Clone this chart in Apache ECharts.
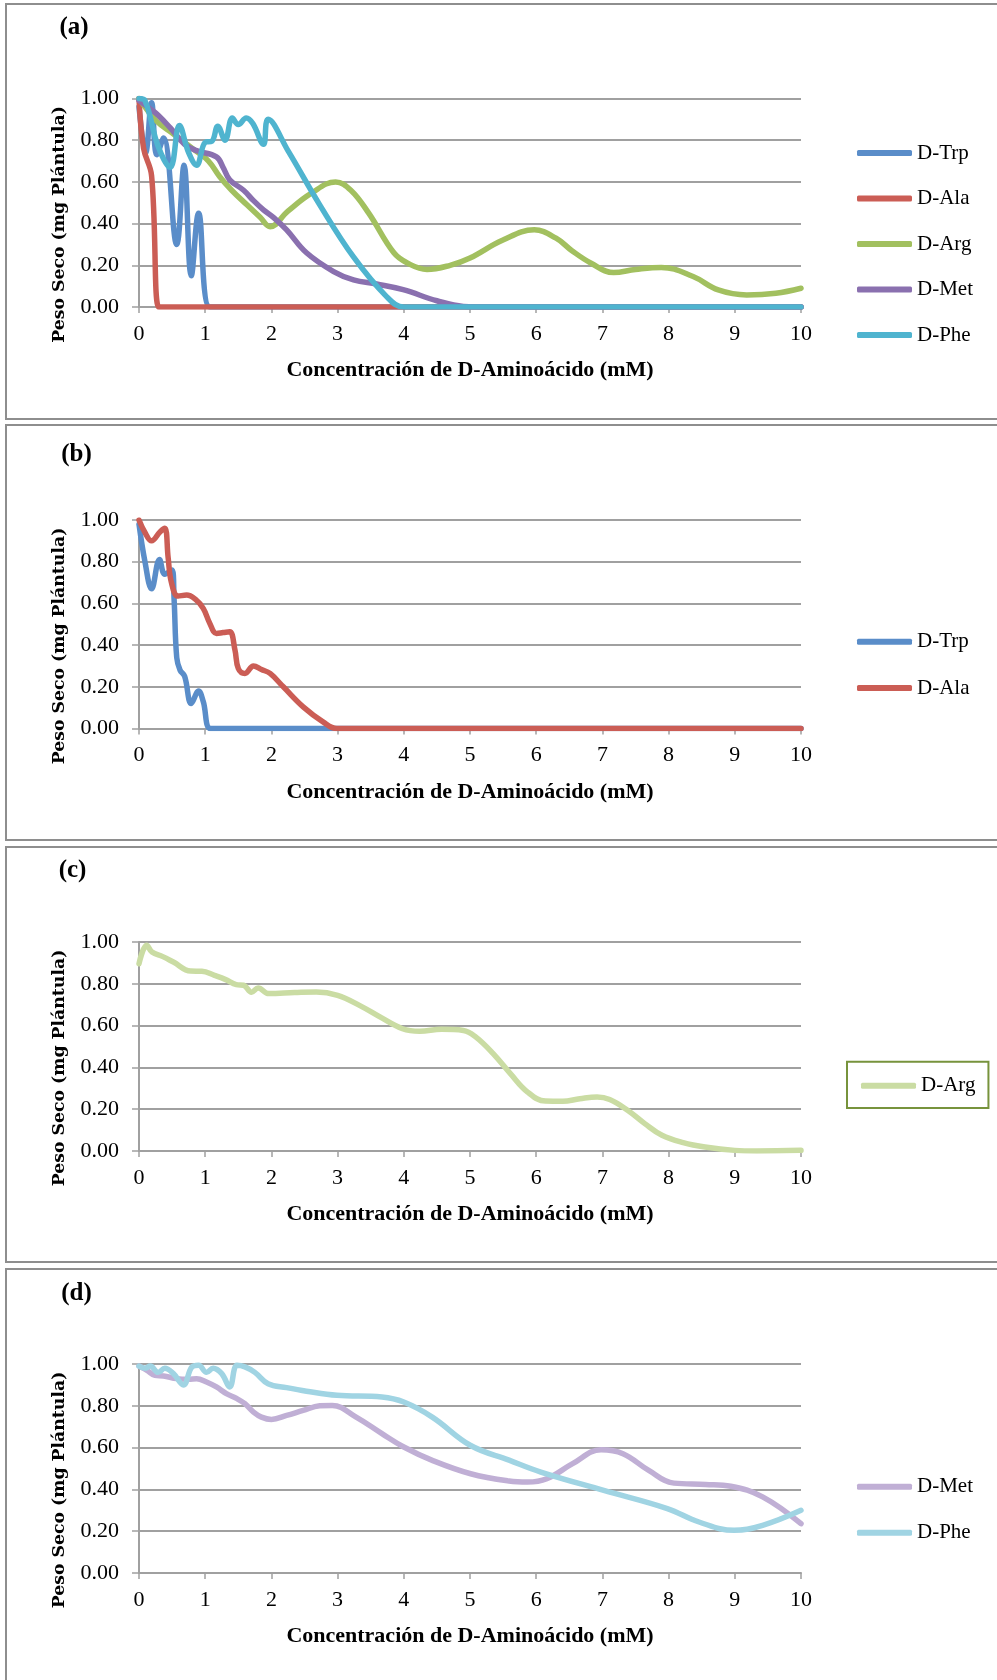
<!DOCTYPE html>
<html>
<head>
<meta charset="utf-8">
<script src="https://cdn.jsdelivr.net/npm/echarts@6/dist/echarts.min.js"></script>
<style>
  html, body { margin: 0; padding: 0; background: #fff; }
  #chart { width: 997px; height: 1680px; }
</style>
</head>
<body>
<div id="chart"></div>
<script>
// valores: [concentración mM, peso seco]
const aTrp = [[0,0.96],[0.1,0.74],[0.19,0.98],[0.27,0.73],[0.37,0.81],[0.57,0.3],[0.68,0.68],[0.79,0.15],[0.9,0.45],[1.07,0],[1.3,0],[2,0],[4,0],[6,0],[8,0],[10,0]];
const aAla = [[0,1],[0.07,0.76],[0.19,0.63],[0.3,0],[0.4,0],[1,0],[2,0],[4,0],[6,0],[8,0],[10,0]];
const aArg = [[0,1],[0.27,0.89],[0.52,0.83],[0.85,0.75],[1.05,0.7],[1.22,0.625],[1.4,0.56],[1.63,0.49],[1.83,0.43],[1.98,0.385],[2.25,0.46],[2.6,0.545],[2.97,0.6],[3.2,0.56],[3.47,0.45],[3.85,0.26],[4.06,0.21],[4.35,0.18],[4.7,0.2],[5,0.235],[5.49,0.32],[5.97,0.37],[6.3,0.33],[6.54,0.27],[6.83,0.21],[7.17,0.165],[7.5,0.18],[7.89,0.19],[8.37,0.146],[8.75,0.082],[9.18,0.058],[9.62,0.066],[10,0.09]];
const aMet = [[0,0.99],[0.17,0.95],[0.29,0.92],[0.47,0.86],[0.69,0.78],[0.87,0.75],[1.17,0.72],[1.27,0.67],[1.37,0.61],[1.58,0.56],[1.73,0.51],[1.88,0.466],[2.03,0.43],[2.23,0.37],[2.53,0.26],[2.94,0.17],[3.24,0.13],[3.59,0.11],[3.99,0.083],[4.5,0.03],[4.9,0.003],[5.3,0],[6,0],[8,0],[10,0]];
const aPhe = [[0,1],[0.09,0.99],[0.29,0.77],[0.47,0.67],[0.61,0.87],[0.75,0.74],[0.87,0.68],[1,0.79],[1.1,0.795],[1.19,0.867],[1.3,0.8],[1.41,0.907],[1.5,0.875],[1.62,0.907],[1.72,0.88],[1.88,0.78],[1.95,0.9],[2.25,0.75],[2.73,0.49],[3.24,0.24],[3.74,0.05],[4,0],[4.3,0],[5,0],[6,0],[8,0],[10,0]];

const bTrp = [[0,0.98],[0.09,0.8],[0.19,0.67],[0.31,0.81],[0.39,0.74],[0.5,0.76],[0.53,0.62],[0.57,0.34],[0.62,0.28],[0.69,0.25],[0.79,0.12],[0.9,0.18],[0.97,0.13],[1.08,0],[1.3,0],[2,0],[4,0],[6,0],[8,0],[10,0]];
const bAla = [[0,1],[0.09,0.94],[0.19,0.9],[0.32,0.944],[0.39,0.96],[0.44,0.82],[0.49,0.7],[0.59,0.635],[0.72,0.64],[0.85,0.62],[0.97,0.576],[1.07,0.504],[1.17,0.456],[1.27,0.46],[1.37,0.464],[1.45,0.376],[1.5,0.288],[1.6,0.264],[1.73,0.3],[1.85,0.283],[1.98,0.264],[2.18,0.2],[2.48,0.104],[2.78,0.032],[2.99,0],[3.5,0],[4,0],[6,0],[8,0],[10,0]];

const cArg = [[0,0.896],[0.117,0.984],[0.196,0.952],[0.36,0.93],[0.52,0.904],[0.78,0.861],[0.95,0.86],[1.14,0.84],[1.31,0.82],[1.47,0.796],[1.58,0.793],[1.7,0.76],[1.8,0.78],[1.96,0.753],[2.35,0.758],[2.68,0.761],[3,0.745],[3.33,0.697],[3.66,0.638],[3.98,0.585],[4.24,0.573],[4.57,0.582],[4.9,0.577],[5.09,0.545],[5.35,0.466],[5.61,0.37],[5.87,0.282],[6.14,0.239],[6.4,0.238],[6.66,0.25],[6.92,0.258],[7.11,0.246],[7.38,0.195],[7.64,0.131],[7.9,0.075],[8.22,0.04],[8.55,0.019],[9,0.003],[9.33,0],[10,0.003]];

const dMet = [[0,0.99],[0.12,0.97],[0.24,0.946],[0.37,0.943],[0.57,0.93],[0.75,0.927],[0.87,0.93],[1.02,0.914],[1.17,0.89],[1.32,0.858],[1.48,0.834],[1.6,0.81],[1.73,0.77],[1.85,0.746],[2,0.735],[2.23,0.754],[2.48,0.778],[2.73,0.8],[2.92,0.802],[3.28,0.746],[3.67,0.667],[4,0.603],[4.43,0.539],[5.01,0.475],[5.59,0.44],[5.87,0.435],[6.16,0.451],[6.55,0.523],[6.98,0.59],[7.31,0.571],[7.7,0.491],[8.08,0.43],[8.56,0.424],[8.94,0.415],[9.42,0.364],[10,0.236]];
const dPhe = [[0,0.99],[0.09,0.98],[0.17,0.99],[0.29,0.96],[0.39,0.98],[0.52,0.954],[0.67,0.9],[0.8,0.986],[0.9,0.994],[1.02,0.96],[1.12,0.98],[1.25,0.954],[1.37,0.89],[1.48,0.994],[1.6,0.986],[1.75,0.96],[1.95,0.906],[2.23,0.887],[2.53,0.87],[2.99,0.85],[3.67,0.842],[4,0.818],[4.43,0.746],[5.01,0.61],[5.59,0.54],[6.07,0.483],[7.02,0.395],[7.98,0.308],[8.46,0.244],[8.99,0.204],[9.42,0.228],[10,0.3]];

const panelLabels = ['(a)', '(b)', '(c)', '(d)'];
const xTitle = 'Concentración de D-Aminoácido (mM)';
const yTitle = 'Peso Seco (mg Plántula)';

const colors = {
  trp: '#5a8dc9', ala: '#cb5d55', arg: '#a2c05f', met: '#8a70af', phe: '#4fb4cf',
  argLight: '#cadca3', metLight: '#c0afd5', pheLight: '#a0d4e3'
};

const serif = "'Liberation Serif', serif";

const panels = [
  { top: 4, gridTop: 98.5, gridH: 208.5, lab: [74, 27.5], legTop: 142.5, legGap: 24.5,
    series: [['D-Trp', aTrp, colors.trp], ['D-Ala', aAla, colors.ala], ['D-Arg', aArg, colors.arg], ['D-Met', aMet, colors.met], ['D-Phe', aPhe, colors.phe]] },
  { top: 425, gridTop: 520, gridH: 208.5, lab: [76.5, 455], legTop: 631.2, legGap: 25.3,
    series: [['D-Trp', bTrp, colors.trp], ['D-Ala', bAla, colors.ala]] },
  { top: 847, gridTop: 942, gridH: 209, lab: [72.5, 871], legTop: 1061.7, legGap: 10, box: true,
    series: [['D-Arg', cArg, colors.argLight]] },
  { top: 1269, gridTop: 1364, gridH: 209, lab: [76.5, 1294], legTop: 1476.2, legGap: 25,
    series: [['D-Met', dMet, colors.metLight], ['D-Phe', dPhe, colors.pheLight]] }
];

const chart = echarts.init(document.getElementById('chart'));

const series = [];
panels.forEach((p, i) => {
  p.series.forEach(([name, data, color]) => {
    series.push({
      name, type: 'line', xAxisIndex: i, yAxisIndex: i, data,
      smooth: 0.4, symbol: 'none', showSymbol: false,
      lineStyle: { color, width: 5.5, cap: 'round', join: 'round' },
      itemStyle: { color }
    });
  });
});

const graphics = [];
panels.forEach((p, i) => {
  graphics.push({
    type: 'rect', silent: true,
    shape: { x: 6, y: p.top, width: 1000, height: 415 },
    style: { fill: 'none', stroke: '#8e8e8e', lineWidth: 2 }
  });
  graphics.push({
    type: 'text', silent: true, x: p.lab[0], y: p.lab[1],
    style: { text: panelLabels[i], font: "bold 25px 'Liberation Serif', serif", fill: '#000',
      align: 'center', verticalAlign: 'middle', textAlign: 'center', textVerticalAlign: 'middle' }
  });
  graphics.push({
    type: 'text', silent: true, x: 60, y: p.gridTop + 126, rotation: Math.PI / 2,
    style: { text: yTitle, font: "bold 17.3px 'DejaVu Serif', serif", fill: '#000',
      align: 'center', verticalAlign: 'middle', textAlign: 'center', textVerticalAlign: 'middle' }
  });
  graphics.push({
    type: 'text', silent: true, x: 470, y: p.gridTop + p.gridH + 63.5,
    style: { text: xTitle, font: "bold 22px 'Liberation Serif', serif", fill: '#000',
      align: 'center', verticalAlign: 'middle', textAlign: 'center', textVerticalAlign: 'middle' }
  });
});

const option = {
  animation: false,
  backgroundColor: '#fff',
  grid: panels.map(p => ({ left: 139, width: 662, top: p.gridTop, height: p.gridH })),
  xAxis: panels.map((p, i) => ({
    type: 'value', gridIndex: i, min: 0, max: 10, interval: 1,
    axisLine: { show: true, lineStyle: { color: '#a0a0a0', width: 2 } },
    axisTick: { show: true, length: 6, lineStyle: { color: '#a0a0a0', width: 1.5 } },
    axisLabel: { margin: 16, fontFamily: serif, fontSize: 22, color: '#000' },
    splitLine: { show: false }
  })),
  yAxis: panels.map((p, i) => ({
    type: 'value', gridIndex: i, min: 0, max: 1, interval: 0.2,
    axisLine: { show: true, lineStyle: { color: '#a0a0a0', width: 2 } },
    axisTick: { show: true, length: 7, lineStyle: { color: '#a0a0a0', width: 1.5 } },
    axisLabel: { margin: 20, fontFamily: serif, fontSize: 22, color: '#000',
      formatter: v => v.toFixed(2) },
    splitLine: { show: true, lineStyle: { color: '#a0a0a0', width: 2 } }
  })),
  legend: panels.map(p => ({
    orient: 'vertical', left: p.box ? 847 : 857, top: p.legTop,
    itemWidth: 55, itemHeight: 6, itemGap: p.legGap, icon: 'roundRect',
    padding: p.box ? [13.5, 13, 11.8, 14] : 0,
    borderColor: p.box ? '#77933c' : 'transparent', borderWidth: p.box ? 2 : 0,
    selectedMode: false,
    textStyle: { fontFamily: serif, fontSize: 21, color: '#000' },
    data: p.series.map(([name, , color]) => ({ name, itemStyle: { color } }))
  })),
  graphic: { elements: graphics },
  series
};

chart.setOption(option);
</script>
</body>
</html>
